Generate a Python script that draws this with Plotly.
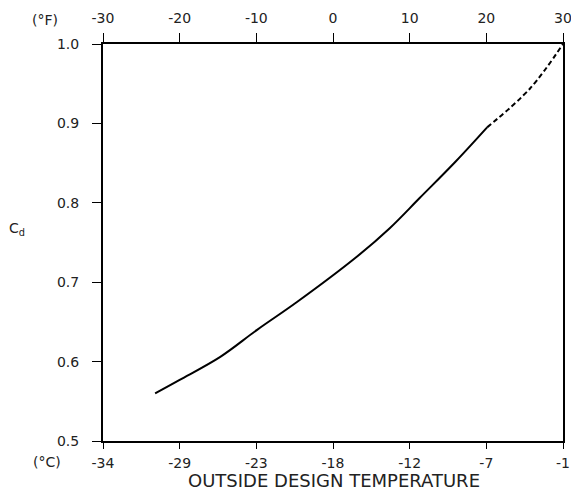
import plotly.graph_objects as go

# Data (x in °F, y = Cd)
solid_F = [-23.2, -20.0, -14.7, -9.9, -4.7, 3.1, 7.4, 11.3, 16.0, 20.1]
solid_Cd = [0.560, 0.577, 0.606, 0.640, 0.675, 0.732, 0.768, 0.806, 0.852, 0.895]
dash_F = [20.1, 25.7, 30.0]
dash_Cd = [0.895, 0.944, 1.0]

tick_F = [-30, -20, -10, 0, 10, 20, 30]
tick_F_labels = ["-30", "-20", "-10", "0", "10", "20", "30"]
tick_C_labels = ["-34", "-29", "-23", "-18", "-12", "-7", "-1"]
y_ticks = [0.5, 0.6, 0.7, 0.8, 0.9, 1.0]

FAM = "DejaVu Sans, Arial, sans-serif"
font = dict(family=FAM, size=14, color="#222")

fig = go.Figure()
fig.add_trace(go.Scatter(x=solid_F, y=solid_Cd, mode="lines",
                         line=dict(color="black", width=2, shape="spline", smoothing=1.0),
                         showlegend=False, hoverinfo="skip"))
fig.add_trace(go.Scatter(x=dash_F, y=dash_Cd, mode="lines",
                         line=dict(color="black", width=2, dash="5px,3px", shape="spline"),
                         showlegend=False, hoverinfo="skip"))
fig.add_trace(go.Scatter(x=[0], y=[0.75], xaxis="x2", mode="markers",
                         marker=dict(opacity=0), showlegend=False, hoverinfo="skip"))

axis_common = dict(showline=True, linecolor="black", linewidth=2, ticks="outside",
                   tickwidth=1, tickcolor="black", showgrid=False, automargin=False,
                   zeroline=False, tickfont=font, ticklabeloverflow="allow")

fig.update_layout(
    width=571, height=491,
    margin=dict(l=103, r=8, t=44, b=50, pad=0, autoexpand=False),
    paper_bgcolor="white", plot_bgcolor="white",
    font=font,
    xaxis=dict(range=[-30, 30], tickmode="array", tickvals=tick_F, ticktext=tick_C_labels,
               ticklen=6, ticklabelstandoff=2, **axis_common),
    xaxis2=dict(range=[-30, 30], overlaying="x", side="top", tickmode="array",
                tickvals=tick_F, ticktext=tick_F_labels, ticklen=9,
                ticklabelstandoff=4, **axis_common),
    yaxis=dict(range=[0.5, 1.0], tickmode="array", tickvals=y_ticks,
               ticktext=[f"{v:.1f}" for v in y_ticks], mirror=True, ticklen=9,
               ticklabelstandoff=10, **axis_common),
)

# text annotations placed at pixel positions of the reference
W, H = 571, 491
l, r, t, b = 103, 8, 44, 50
pw, ph = W - l - r, H - t - b
texts = [
    ("(°F)", 45, 20, 14),
    ("(°C)", 47, 462, 14),
    ("C<sub>d</sub>", 17, 229, 14),
    ("OUTSIDE DESIGN TEMPERATURE", 334, 480, 18),
]
anns = []
for txt, px, py, fs in texts:
    anns.append(dict(text=txt, showarrow=False,
                     font=dict(family=FAM, size=fs, color="#222"),
                     xref="paper", yref="paper",
                     x=(px - l) / pw, y=1 - (py - t) / ph,
                     xanchor="center", yanchor="middle"))
fig.update_layout(annotations=anns)

fig.write_html("out.html", config={"displayModeBar": False},
               post_script="document.body.style.margin='0';")
